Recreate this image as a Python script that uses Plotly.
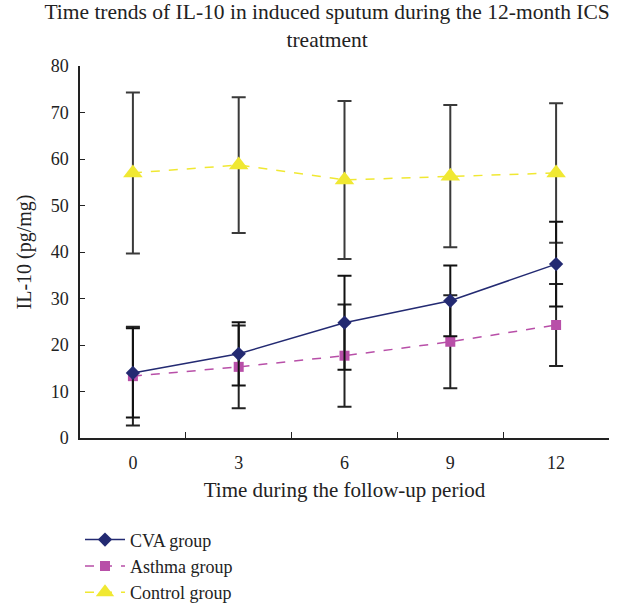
import plotly.graph_objects as go

months = ["0", "3", "6", "9", "12"]
cva = [14.0, 18.1, 24.8, 29.5, 37.4]
cva_err = [9.6, 6.8, 10.1, 7.6, 9.1]
asthma = [13.3, 15.3, 17.7, 20.7, 24.3]
asthma_err = [10.6, 8.9, 11.0, 10.0, 8.8]
control = [57.0, 58.7, 55.5, 56.3, 57.0]
control_err = [17.3, 14.6, 17.0, 15.3, 15.0]

FONT = "Liberation Serif"

fig = go.Figure()
fig.add_trace(go.Scatter(
    x=months, y=control, name="Control group", mode="lines+markers",
    line=dict(color="#f0e832", width=1.5, dash="dash"),
    marker=dict(symbol="triangle-up", size=17, color="#f0e832"),
    error_y=dict(type="data", array=control_err, color="#3a3a3a", thickness=2, width=7),
))
fig.add_trace(go.Scatter(
    x=months, y=asthma, name="Asthma group", mode="lines+markers",
    line=dict(color="#b84fa8", width=1.5, dash="dash"),
    marker=dict(symbol="square", size=10, color="#b84fa8"),
    error_y=dict(type="data", array=asthma_err, color="#222222", thickness=2, width=7),
))
fig.add_trace(go.Scatter(
    x=months, y=cva, name="CVA group", mode="lines+markers",
    line=dict(color="#232a72", width=1.5),
    marker=dict(symbol="diamond", size=11, color="#232a72"),
    error_y=dict(type="data", array=cva_err, color="#111111", thickness=2, width=7),
))

fig.update_layout(
    width=623, height=604,
    margin=dict(l=80, r=14, t=66, b=166, autoexpand=False),
    paper_bgcolor="white", plot_bgcolor="white",
    font=dict(family=FONT, size=18, color="#222"),
    title=dict(text="Time trends of IL-10 in induced sputum during the 12-month ICS<br>treatment",
               x=0.525, xanchor="center", yref="container", y=0.968, yanchor="middle",
               font=dict(family=FONT, size=21.5, color="#222")),
    showlegend=True,
    legend=dict(x=0.0, xref="paper", y=-0.224, xanchor="left", yanchor="top",
                traceorder="reversed", font=dict(family=FONT, size=18, color="#222"),
                bgcolor="rgba(0,0,0,0)", tracegroupgap=0, itemwidth=40),
)
fig.update_xaxes(
    type="category", range=[-0.5, 4.5], showline=True, linecolor="#222", linewidth=1.5,
    ticks="inside", ticklen=6, tickcolor="#222", tickson="boundaries", showgrid=False,
    ticklabelstandoff=8,
    title=dict(text="Time during the follow-up period", font=dict(family=FONT, size=21), standoff=10),
    tickfont=dict(family=FONT, size=18),
)
fig.update_yaxes(
    range=[0, 80], dtick=10, showline=True, linecolor="#222", linewidth=1.5,
    ticks="inside", ticklen=5, tickcolor="#222", showgrid=False, zeroline=False,
    ticklabelstandoff=6,
    title=dict(text="IL-10 (pg/mg)", font=dict(family=FONT, size=20), standoff=14),
    tickfont=dict(family=FONT, size=18),
)

fig.write_html("out.html")
